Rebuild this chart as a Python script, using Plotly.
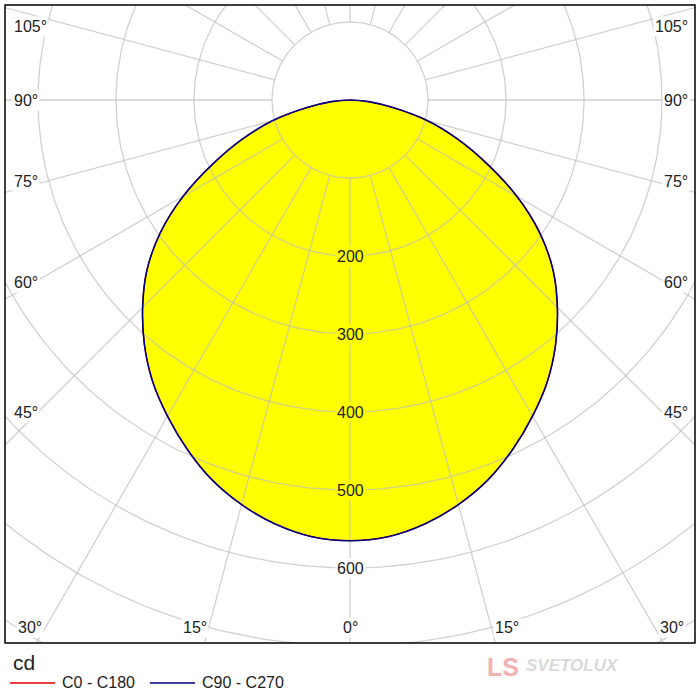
import numpy as np
import plotly.graph_objects as go

# luminous intensity, cd (gamma angle in degrees)
gamma = [0, 5, 10, 15, 20, 25, 30, 35, 40, 45, 50, 55, 60, 65, 70, 75, 80, 85, 90]
c0_c180 = [565, 562, 552, 537, 518, 494, 468, 441, 410, 376, 340, 297, 247, 194, 147, 103, 56, 24, 0]
c90_c270 = [565, 562, 552, 537, 518, 494, 468, 441, 410, 376, 340, 297, 247, 194, 147, 103, 56, 24, 0]

ring_values = [100, 200, 300, 400, 500, 600, 700, 800, 900]
ring_labels = [200, 300, 400, 500, 600]
spoke_angles = list(range(0, 360, 15))

# angle labels round the frame: text, x px, y px, anchor
angle_labels = [
    ("105°", 12, 26, "left"), ("90°", 12, 100, "left"), ("75°", 12, 182, "left"),
    ("60°", 12, 282, "left"), ("45°", 12, 412, "left"), ("30°", 30, 627, "center"),
    ("15°", 195, 627, "center"), ("0°", 350, 627, "center"), ("15°", 507, 627, "center"),
    ("30°", 672, 627, "center"), ("45°", 690, 412, "right"), ("60°", 690, 282, "right"),
    ("75°", 690, 182, "right"), ("90°", 690, 100, "right"), ("105°", 690, 26, "right"),
]

series_names = ["C0 - C180", "C90 - C270"]
series_colors = ["#e00000", "#000080"]

FONT = "Liberation Sans"
GRID = "rgba(190,190,190,0.7)"


def to_xy(ang, r):
    # 0 deg points straight down, both halves mirrored
    a = np.radians(np.asarray(ang, dtype=float))
    r = np.asarray(r, dtype=float)
    return r * np.sin(a), -r * np.cos(a)


def full_curve(vals):
    ang = [-g for g in gamma[::-1]] + gamma[1:]
    r = vals[::-1] + vals[1:]
    return to_xy(ang, r)


def px(xp):
    return (xp - 5) / 690


def py(yp):
    return (643 - yp) / 638


fig = go.Figure()

fx, fy = full_curve(c90_c270)
fig.add_trace(go.Scatter(x=fx, y=fy, fill="toself", fillcolor="#ffff00",
                         line=dict(width=0, shape="spline", smoothing=1), mode="lines",
                         hoverinfo="skip"))

phi = np.linspace(0, 360, 361)
for rv in ring_values:
    x, y = to_xy(phi, np.full_like(phi, rv))
    fig.add_trace(go.Scatter(x=x, y=y, mode="lines", line=dict(color=GRID, width=1.3),
                             hoverinfo="skip"))
for a in spoke_angles:
    x, y = to_xy([a, a], [100, 1000])
    fig.add_trace(go.Scatter(x=x, y=y, mode="lines", line=dict(color=GRID, width=1.3),
                             hoverinfo="skip"))

for vals, name, col, w in zip([c0_c180, c90_c270], series_names, series_colors, [1.2, 1.6]):
    cx, cy = full_curve(vals)
    fig.add_trace(go.Scatter(x=cx, y=cy, mode="lines", name=name,
                             line=dict(color=col, width=w, shape="spline", smoothing=1)))

for rv in ring_labels:
    inside = rv <= 500
    fig.add_annotation(x=0, y=-rv, xref="x", yref="y", text=str(rv), showarrow=False,
                       font=dict(family=FONT, size=16, color="#222222"),
                       bgcolor="#ffff00" if inside else "#ffffff", borderpad=1)

for text, xp, yp, anchor in angle_labels:
    fig.add_annotation(x=px(xp), y=py(yp), xref="paper", yref="paper", text=text,
                       showarrow=False, xanchor=anchor, yanchor="middle",
                       font=dict(family=FONT, size=16, color="#222222"),
                       bgcolor="#ffffff", borderpad=1)

# legend drawn under the frame
fig.add_annotation(x=px(11), y=py(662), xref="paper", yref="paper", text="cd",
                   showarrow=False, xanchor="left", yanchor="middle",
                   font=dict(family=FONT, size=21, color="#222222"))
for i, (name, col) in enumerate(zip(series_names, series_colors)):
    x0 = 10 + i * 140
    fig.add_shape(type="line", xref="paper", yref="paper", x0=px(x0), x1=px(x0 + 45),
                  y0=py(683), y1=py(683), line=dict(color=col, width=1.5))
    fig.add_annotation(x=px(x0 + 50), y=py(683), xref="paper", yref="paper", text=name,
                       showarrow=False, xanchor="left", yanchor="middle",
                       font=dict(family=FONT, size=16, color="#222222"))

# watermark
fig.add_annotation(x=px(521), y=py(667), xref="paper", yref="paper", text="<b>LS</b>",
                   showarrow=False, xanchor="right", yanchor="middle",
                   font=dict(family=FONT, size=25, color="#f5b0b0"))
fig.add_annotation(x=px(524), y=py(665), xref="paper", yref="paper",
                   text="<b><i>SVETOLUX</i></b>", showarrow=False, xanchor="left",
                   yanchor="middle", font=dict(family=FONT, size=17, color="#d9d9d9"))

fig.add_shape(type="rect", xref="paper", yref="paper", x0=0, x1=1, y0=0, y1=1,
              line=dict(color="#000000", width=1.5))

fig.update_xaxes(range=[(5 - 350) / 0.78, (695 - 350) / 0.78], visible=False)
fig.update_yaxes(range=[-(643 - 100) / 0.78, (100 - 5) / 0.78], visible=False)

fig.update_layout(
    width=700, height=700,
    margin=dict(l=5, r=5, t=5, b=57, autoexpand=False),
    paper_bgcolor="white", plot_bgcolor="white",
    font=dict(family=FONT, size=16, color="#222222"),
    showlegend=False,
)

fig.write_html("out.html", config={"displayModeBar": False},
               post_script="document.body.style.margin='0';")
